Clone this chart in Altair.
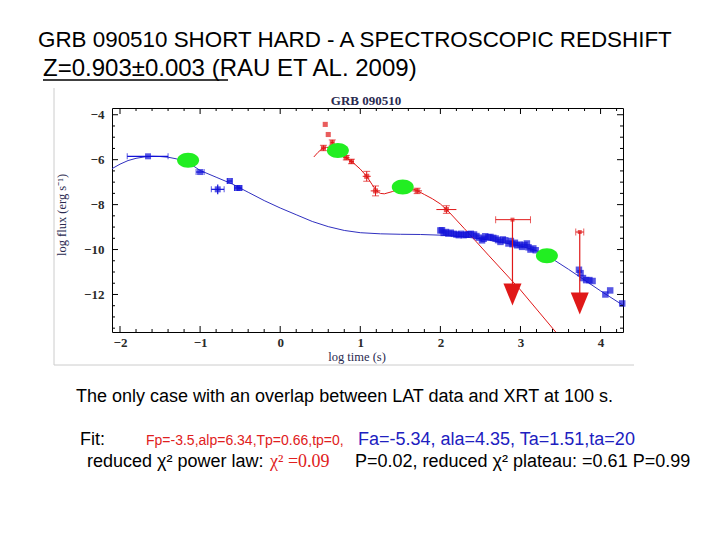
import altair as alt
import pandas as pd
import numpy as np

# ---------------- data ----------------
# blue model curve (prompt emission + plateau)
blue_curve_t = [-2.1, -2.0, -1.9, -1.8, -1.7, -1.6, -1.5, -1.4, -1.3, -1.2, -1.1, -1.0, -0.8, -0.6,
                -0.4, -0.2, 0.0, 0.2, 0.4, 0.6, 0.8, 1.0, 1.25, 1.5, 1.75, 2.0, 2.25, 2.5, 2.75,
                3.0, 3.2, 3.4, 3.6, 3.8, 4.0, 4.28]
blue_curve_y = [-6.4, -6.2, -6.04, -5.94, -5.88, -5.85, -5.86, -5.89, -5.96, -6.07, -6.24, -6.48,
                -6.78, -7.08, -7.45, -7.82, -8.15, -8.45, -8.75, -8.98, -9.15, -9.25, -9.3, -9.32,
                -9.33, -9.36, -9.42, -9.52, -9.67, -9.84, -10.05, -10.42, -10.88, -11.36, -11.84, -12.48]

# red model curve (LAT)
red_curve_t = [0.42, 0.47, 0.52, 0.58, 0.65, 0.72, 0.8, 0.9, 1.0, 1.08, 1.15, 1.2, 1.25, 1.3, 1.4,
               1.5, 1.6, 1.7, 1.8, 1.9, 2.0, 2.1, 2.3, 2.6, 3.0, 3.44]
red_curve_y = [-5.88, -5.68, -5.52, -5.45, -5.47, -5.6, -5.85, -6.1, -6.42, -6.74, -7.12, -7.38,
               -7.5, -7.52, -7.42, -7.28, -7.24, -7.36, -7.55, -7.74, -7.97, -8.3, -9.07, -10.25,
               -11.8, -13.67]

# early blue points with error bars
early_t = [-1.65, -1.0, -0.78, -0.63, -0.54, -0.51]
early_y = [-5.85, -6.55, -7.32, -6.95, -7.26, -7.26]
early_xlo = [-1.91, -1.05, -0.86, -0.66, -0.57, -0.53]
early_xhi = [-1.40, -0.95, -0.70, -0.60, -0.50, -0.48]
early_ylo = [-5.85, -6.55, -7.54, -6.95, -7.26, -7.26]
early_yhi = [-5.85, -6.55, -7.10, -6.95, -7.26, -7.26]

# XRT points
xrt_t = [2.0, 2.02, 2.04, 2.07, 2.1, 2.13, 2.17, 2.2, 2.23, 2.26, 2.29, 2.32, 2.35, 2.38, 2.42,
         2.45, 2.48, 2.52, 2.54, 2.56, 2.6, 2.625, 2.66, 2.69, 2.72, 2.75, 2.78, 2.81, 2.85, 2.88,
         2.9, 2.93, 2.96, 2.99, 3.02, 3.05, 3.08, 3.1, 3.125, 3.16, 3.19]
xrt_y = [-9.15, -9.14, -9.26, -9.22, -9.29, -9.25, -9.3, -9.33, -9.36, -9.3, -9.36, -9.34, -9.32,
         -9.3, -9.33, -9.4, -9.47, -9.59, -9.52, -9.41, -9.45, -9.44, -9.48, -9.51, -9.58, -9.66,
         -9.55, -9.59, -9.73, -9.62, -9.76, -9.7, -9.81, -9.78, -9.88, -9.8, -9.73, -9.9, -10.0,
         -9.95, -10.03]
late_t = [3.73, 3.75, 3.78, 3.82, 3.86, 3.9, 4.06, 4.12, 4.27]
late_y = [-10.9, -11.05, -11.27, -11.36, -11.36, -11.4, -12.0, -11.82, -12.4]

# red LAT points
red_t = [0.5625, 0.60, 0.65, 0.54, 0.825, 0.89, 1.08, 1.19, 1.71, 2.075]
red_y = [-4.43, -4.88, -5.24, -5.48, -5.91, -6.08, -6.74, -7.39, -7.39, -8.22]
red_xerr = [0, 0, 0.02, 0.03, 0.04, 0.03, 0.05, 0.06, 0.06, 0.125]
red_yerr = [0, 0, 0.12, 0.12, 0.1, 0.1, 0.22, 0.22, 0.12, 0.17]

# LAT upper limits
ul_t = [2.90, 3.74]
ul_y = [-8.67, -9.22]
ul_xlo = [2.69, 3.69]
ul_xhi = [3.125, 3.79]
ul_head = [-12.0, -12.4]

# green markers
green_t = [-1.15, 0.72, 1.53, 3.33]
green_y = [-6.03, -5.59, -7.22, -10.28]

x_major = [-2, -1, 0, 1, 2, 3, 4]
y_major = [-12, -10, -8, -6, -4]

# ---------------- chart ----------------
W, H = 511, 224
BLUE = "#1010d8"
BLUE_LINE = "#3030c0"
RED = "#e01818"
GREEN = "#22ee22"

xs = alt.Scale(domain=[-2.1, 4.28], nice=False, zero=False)
ys = alt.Scale(domain=[-13.67, -3.7], nice=False, zero=False)

xaxis = alt.Axis(values=x_major, ticks=False, domain=False, grid=False, title="",
                 labelFont="Liberation Serif", labelFontSize=13, labelFontWeight="bold",
                 labelPadding=4, labelColor="#2a2a2a")
yaxis = alt.Axis(values=y_major, ticks=False, domain=False, grid=False, title="",
                 labelFont="Liberation Serif", labelFontSize=13, labelFontWeight="bold",
                 labelPadding=8, labelColor="#2a2a2a")

X = lambda f="t": alt.X(f"{f}:Q", scale=xs, axis=xaxis)
Y = lambda f="y": alt.Y(f"{f}:Q", scale=ys, axis=yaxis)

df_bc = pd.DataFrame({"t": blue_curve_t, "y": blue_curve_y})
df_rc = pd.DataFrame({"t": red_curve_t, "y": red_curve_y})
df_e = pd.DataFrame({"t": early_t, "y": early_y, "xlo": early_xlo, "xhi": early_xhi,
                     "ylo": early_ylo, "yhi": early_yhi})
df_x = pd.DataFrame({"t": xrt_t + late_t, "y": xrt_y + late_y})
df_r = pd.DataFrame({"t": red_t, "y": red_y})
df_r["xlo"] = df_r["t"] - pd.Series(red_xerr)
df_r["xhi"] = df_r["t"] + pd.Series(red_xerr)
df_r["ylo"] = df_r["y"] - pd.Series(red_yerr)
df_r["yhi"] = df_r["y"] + pd.Series(red_yerr)
df_rerr = df_r[pd.Series(red_yerr) > 0]
df_ul = pd.DataFrame({"t": ul_t, "y": ul_y, "xlo": ul_xlo, "xhi": ul_xhi, "yh": ul_head})
df_g = pd.DataFrame({"t": green_t, "y": green_y})

blue_line = alt.Chart(df_bc).mark_line(color=BLUE_LINE, strokeWidth=1, clip=True).encode(x=X(), y=Y())
red_line = alt.Chart(df_rc).mark_line(color=RED, strokeWidth=1, clip=True).encode(x=X(), y=Y())

early_xe = alt.Chart(df_e).mark_rule(color=BLUE, strokeWidth=1.2).encode(x=X("xlo"), x2="xhi", y=Y())
early_ye = alt.Chart(df_e).mark_rule(color=BLUE, strokeWidth=1.2).encode(x=X(), y=Y("ylo"), y2="yhi")
early_cl = alt.Chart(df_e).mark_tick(color=BLUE, orient="vertical", size=6, thickness=1).encode(x=X("xlo"), y=Y())
early_cr = alt.Chart(df_e).mark_tick(color=BLUE, orient="vertical", size=6, thickness=1).encode(x=X("xhi"), y=Y())
early_pts = alt.Chart(df_e).mark_point(shape="square", filled=True, color=BLUE, size=36).encode(x=X(), y=Y())
xrt_pts = alt.Chart(df_x).mark_point(shape="square", filled=True, color=BLUE, size=42).encode(x=X(), y=Y())

red_xe = alt.Chart(df_rerr).mark_rule(color=RED, strokeWidth=1).encode(x=X("xlo"), x2="xhi", y=Y())
red_ye = alt.Chart(df_rerr).mark_rule(color=RED, strokeWidth=1).encode(x=X(), y=Y("ylo"), y2="yhi")
red_cap_lo = alt.Chart(df_rerr).mark_tick(color=RED, orient="horizontal", size=7, thickness=1).encode(x=X(), y=Y("ylo"))
red_cap_hi = alt.Chart(df_rerr).mark_tick(color=RED, orient="horizontal", size=7, thickness=1).encode(x=X(), y=Y("yhi"))
red_pts = alt.Chart(df_r).mark_point(shape="square", filled=True, color=RED, size=26).encode(x=X(), y=Y())

ul_h = alt.Chart(df_ul).mark_rule(color=RED, strokeWidth=1).encode(x=X("xlo"), x2="xhi", y=Y())
ul_cl = alt.Chart(df_ul).mark_tick(color=RED, orient="vertical", size=7, thickness=1).encode(x=X("xlo"), y=Y())
ul_cr = alt.Chart(df_ul).mark_tick(color=RED, orient="vertical", size=7, thickness=1).encode(x=X("xhi"), y=Y())
ul_v = alt.Chart(df_ul).mark_rule(color=RED, strokeWidth=1.2).encode(x=X(), y=Y(), y2="yh")
ul_pt = alt.Chart(df_ul).mark_point(shape="square", filled=True, color=RED, size=16).encode(x=X(), y=Y())
ul_arrow = alt.Chart(df_ul).mark_point(shape="M -0.82 -1 L 0.82 -1 L 0 1 Z", filled=True, color=RED,
                                       size=484, opacity=1).encode(x=X(), y=Y("yh"))

greens = alt.Chart(df_g).mark_point(shape="M -1 0 A 1 0.68 0 1 1 1 0 A 1 0.68 0 1 1 -1 0 Z",
                                    filled=True, color=GREEN, size=484, opacity=1).encode(x=X(), y=Y())

# inward frame ticks (every 0.2 on x, every 0.5 on y)
xt = pd.DataFrame({"t": np.round(np.arange(-2.0, 4.21, 0.2), 2)})
xt["major"] = np.isclose(xt["t"], np.round(xt["t"]))
yt = pd.DataFrame({"y": np.arange(-13.5, -3.9, 0.5)})
yt["major"] = np.isclose(yt["y"] % 2, 0)

def xticks(major, L):
    d = xt[xt["major"] == major]
    b = alt.Chart(d).mark_rule(color="black", strokeWidth=1)
    return [b.encode(x=X(), y=alt.value(H), y2=alt.value(H - L)),
            b.encode(x=X(), y=alt.value(0), y2=alt.value(L))]

def yticks(major, L):
    d = yt[yt["major"] == major]
    b = alt.Chart(d).mark_rule(color="black", strokeWidth=1)
    return [b.encode(y=Y(), x=alt.value(0), x2=alt.value(L)),
            b.encode(y=Y(), x=alt.value(W), x2=alt.value(W - L))]

ticks = xticks(True, 6) + xticks(False, 3) + yticks(True, 6) + yticks(False, 3)

one = pd.DataFrame({"k": [0]})

def txt(s, x, y, size, color="black", font="Liberation Sans", align="left", weight="normal", angle=0,
        style="normal"):
    return alt.Chart(one).mark_text(text=s, fontSize=size, color=color, font=font, align=align,
                                    baseline="alphabetic", fontWeight=weight, angle=angle,
                                    fontStyle=style).encode(x=alt.value(x), y=alt.value(y))

SANS = "Liberation Sans"
SERIF = "Liberation Serif"
texts = [
    txt("GRB 090510 SHORT HARD -  A SPECTROSCOPIC REDSHIFT", -74, -61, 22.4),
    txt("Z=0.903\u00b10.003 (RAU ET AL. 2009)", -69, -32, 24),
    txt("GRB 090510", 254, -3, 13, color="#2a2a50", font=SERIF, align="center", weight="bold"),
    txt("log time (s)", 245, 253, 12.5, color="#2a2a50", font=SERIF, align="center"),
    txt("log flux (erg s\u207b\u00b9)", -46, 107, 12.5, color="#2a2a50", font=SERIF,
        align="center", angle=270),
    txt("The only case with an overlap between LAT data and XRT at 100 s.", -36, 294, 18),
    txt("Fit:", -32, 337, 18),
    txt("Fp=-3.5,alp=6.34,Tp=0.66,tp=0,", 34, 337, 14, color="#e02020"),
    txt("Fa=-5.34, ala=4.35, Ta=1.51,ta=20", 246, 337, 18, color="#2020c0"),
    txt("reduced \u03c7\u00b2 power law:", -25, 359, 18),
    txt("\u03c7\u00b2 =0.09", 158, 359, 18, color="#e02020", font=SERIF),
    txt("P=0.02,  reduced \u03c7\u00b2 plateau:  =0.61 P=0.99", 243, 359, 18),
]

deco = [
    alt.Chart(one).mark_rule(color="black", strokeWidth=1.5).encode(
        x=alt.value(-69), x2=alt.value(116), y=alt.value(-28)),
    alt.Chart(one).mark_rule(color="#cccccc", strokeWidth=1).encode(
        x=alt.value(-58), y=alt.value(-20), y2=alt.value(257)),
    alt.Chart(one).mark_rule(color="#cccccc", strokeWidth=1).encode(
        x=alt.value(-58), x2=alt.value(522), y=alt.value(257)),
]

chart = alt.layer(
    blue_line, red_line,
    early_xe, early_ye, early_cl, early_cr, early_pts, xrt_pts,
    red_xe, red_ye, red_cap_lo, red_cap_hi, red_pts,
    ul_h, ul_cl, ul_cr, ul_v, ul_pt, ul_arrow,
    greens,
    *ticks, *texts, *deco,
).properties(
    width=W, height=H,
    autosize=alt.AutoSizeParams(type="none"),
    padding={"left": 104, "top": 100, "right": 89, "bottom": 200},
    background="white",
).configure_view(stroke="black", strokeWidth=1)

chart.save("out.html", embed_options={"renderer": "svg", "actions": False})
